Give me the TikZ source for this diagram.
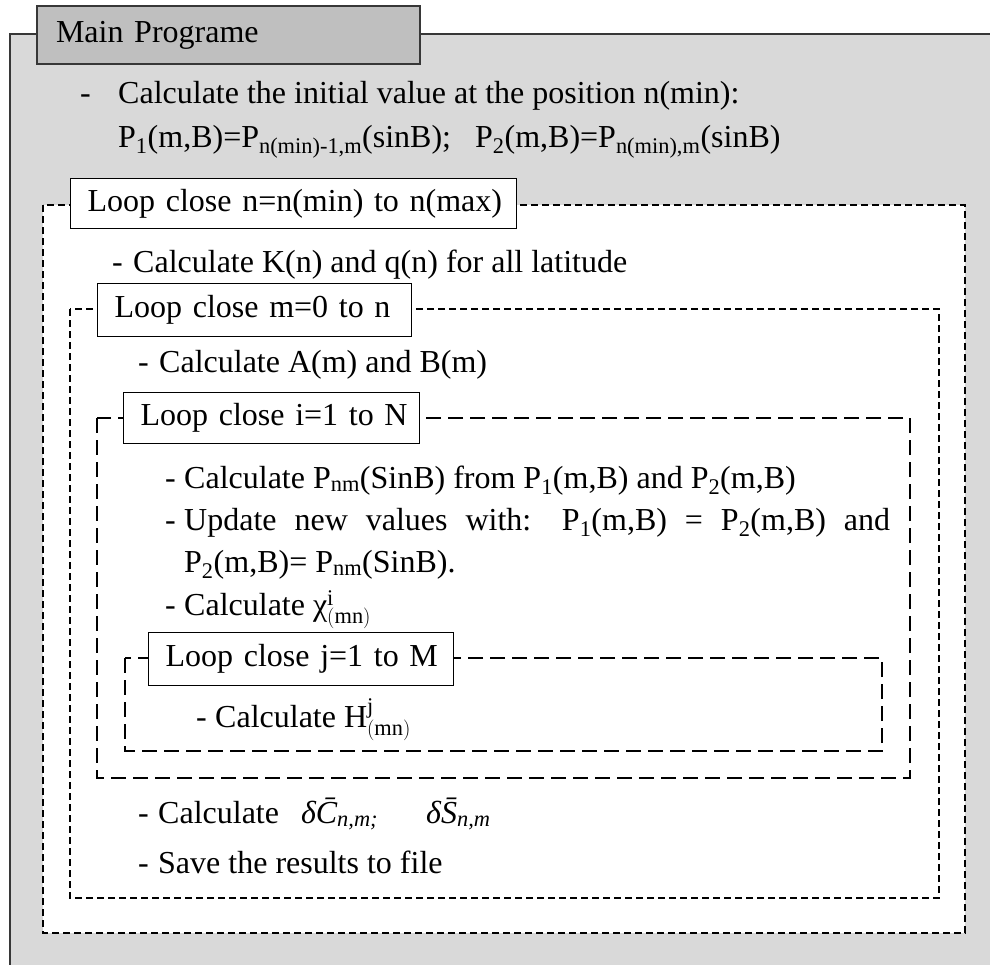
\documentclass[tikz,border=0pt]{standalone}
\usepackage{fontspec}
\setmainfont{Liberation Serif}
\usepackage{tikz}
\usetikzlibrary{positioning}
\definecolor{panelgray}{RGB}{217,217,217}
\definecolor{headgray}{RGB}{191,191,191}
\definecolor{edgegray}{RGB}{55,55,55}

\begin{document}
\begin{tikzpicture}[x=1pt, y=-1pt, font={\fontsize{32}{38}\selectfont}]
  \tikzset{itemtxt/.style={anchor=base west, inner sep=0pt}}
  \tikzset{loopbox/.style={draw=black, fill=white, line width=1.3pt, anchor=north west,
                           inner xsep=17pt, inner ysep=0pt, align=left}}
  \tikzset{loopframe/.style={draw=black, fill=white, line width=1.4pt, dash pattern=on 7pt off 4pt}}
  \tikzset{innerframe/.style={loopframe, line width=1.6pt, dash pattern=on 15pt off 7pt}}

  \useasboundingbox (0,0) rectangle (990,964);
  \clip (0,0) rectangle (990,964);

  % Main programe panel
  \draw[edgegray, fill=panelgray, line width=2pt] (10,34) rectangle (1010,990);
  \node[draw=edgegray, fill=headgray, line width=2pt, anchor=north west, minimum width=383pt,
        minimum height=58pt, text width=345pt, inner xsep=19pt, align=left] (main) at (36,5) {Main Programe};
  \node[itemtxt] (initA) at (118,103) {Calculate the initial value at the position n(min):};
  \node[itemtxt] (initB) at (118,147) {P\textsubscript{1}(m,B)=P\textsubscript{n(min)-1,m}(sinB);\hspace{24pt}P\textsubscript{2}(m,B)=P\textsubscript{n(min),m}(sinB)};

  % Loop over n
  \draw[loopframe] (43,205) rectangle (965,933);
  \node[loopbox, minimum width=446pt, minimum height=50pt, text width=412pt] (nloop) at (70,178) {\mbox{Loop close n=n(min) to n(max)}};
  \node[itemtxt] (kq) at (133,272) {Calculate K(n) and q(n) for all latitude};

  % Loop over m
  \draw[loopframe] (70,309) rectangle (939,898);
  \node[loopbox, minimum width=314pt, minimum height=53pt, text width=280pt] (mloop) at (97,283) {\mbox{Loop close m=0 to n}};
  \node[itemtxt] (ab) at (159,372) {Calculate A(m) and B(m)};

  % Loop over i
  \draw[innerframe] (97,418) rectangle (910,778);
  \node[loopbox, minimum width=296pt, minimum height=51pt, text width=262pt] (iloop) at (123,392) {\mbox{Loop close i=1 to N}};
  \node[itemtxt] (pnm) at (184,488) {Calculate P\textsubscript{nm}(SinB) from P\textsubscript{1}(m,B) and P\textsubscript{2}(m,B)};
  \node[itemtxt] (upd) at (184,530) {\makebox[706pt][s]{Update new values with: P\textsubscript{1}(m,B) = P\textsubscript{2}(m,B) and}};
  \node[itemtxt] (updb) at (184,572) {P\textsubscript{2}(m,B)= P\textsubscript{nm}(SinB).};
  \node[itemtxt] (chi) at (184,615) {Calculate χ$^{\mathrm{i}}_{\mathrm{(mn)}}$};

  % Loop over j
  \draw[innerframe] (125,658) rectangle (882,751);
  \node[loopbox, minimum width=305pt, minimum height=53pt, text width=271pt] (jloop) at (148,632) {\mbox{Loop close j=1 to M}};
  \node[itemtxt] (hj) at (215,727) {Calculate H$^{\mathrm{j}}_{\mathrm{(mn)}}$};

  % After loop i
  \node[itemtxt] (dcs) at (158,823) {Calculate\hspace{22pt}{\itshape δ\={C}\textsubscript{n,m;}}\hspace{48pt}{\itshape δ\={S}\textsubscript{n,m}}};
  \node[itemtxt] (save) at (158,873) {Save the results to file};

  % Dashes in front of items
  \foreach \x/\y [count=\k] in {80/103,112/272,138/372,165/488,165/530,165/615,196/727,138/823,138/873}{
    \node[itemtxt] (dash\k) at (\x,\y) {-};
  }
\end{tikzpicture}
\end{document}
